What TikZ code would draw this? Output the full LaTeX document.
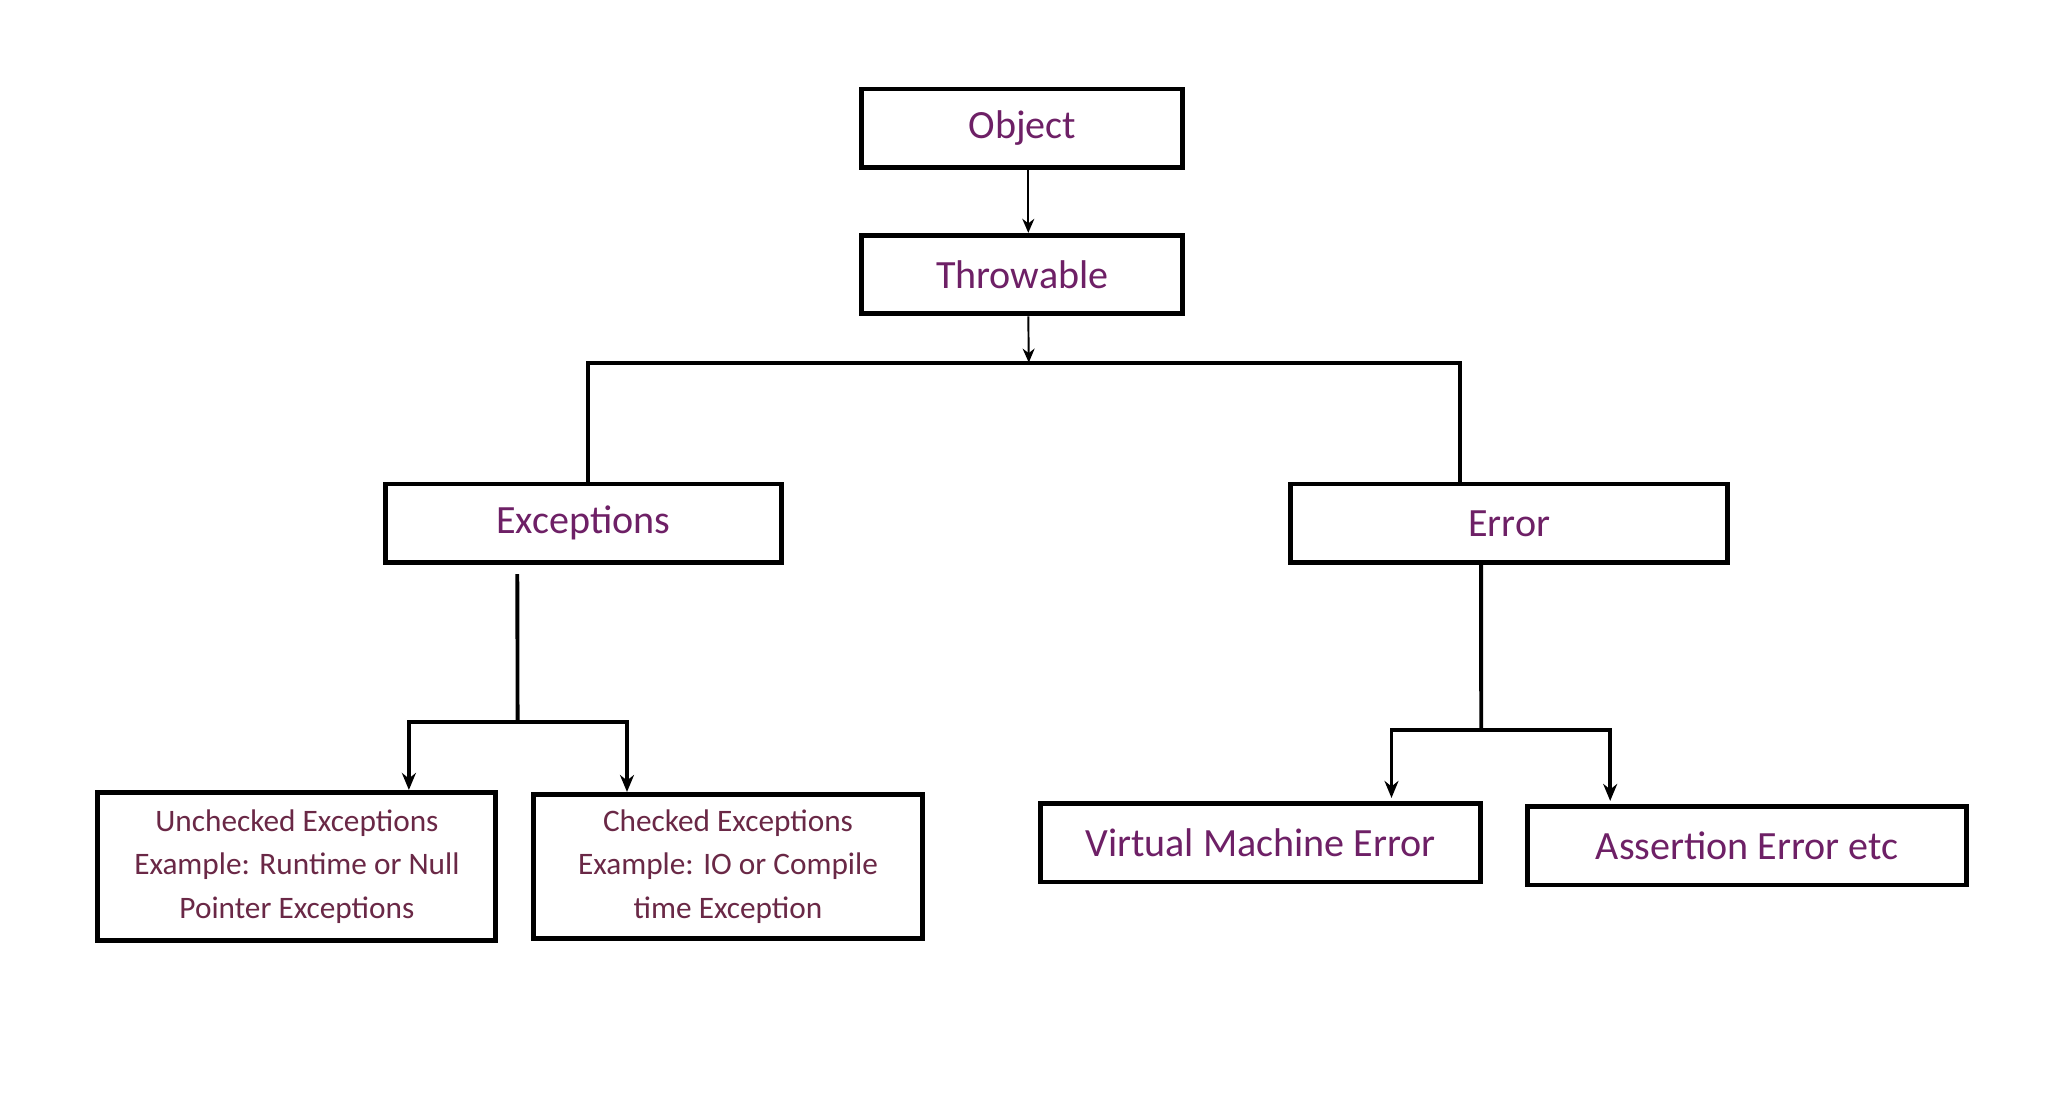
\documentclass[tikz,border=0pt]{standalone}
\usepackage{fontspec}
\setmainfont{Carlito}
\usetikzlibrary{arrows.meta, positioning, calc}

\definecolor{classpurple}{HTML}{6E2066}
\definecolor{notepurple}{HTML}{6A2846}

\begin{document}
\begin{tikzpicture}[
    % Define styles for consistency
    class_box/.style={draw=black, line width=1.4pt, fill=white, minimum height=0.786cm,
        font=\fontsize{11.4}{13}\selectfont, text=classpurple},
    note_box/.style={draw=black, line width=1.4pt, fill=white, align=center,
        font=\fontsize{8.9}{12.3}\selectfont, text=notepurple},
    thin_arrow/.style={-{Stealth[length=1.4mm, width=1.2mm]}, line width=0.55pt},
    branch/.style={line width=1.1pt},
    branch_arrow/.style={branch, -{Stealth[length=1.7mm, width=1.4mm]}}
]
    \useasboundingbox (0, 0) rectangle (20.48, -11.04);

    % ---------------------------------------------------------
    % 1. Top of the hierarchy
    % ---------------------------------------------------------
    \node[class_box, minimum width=3.21cm] (object) at (10.223, -1.283) {Object};
    \node[class_box, minimum width=3.21cm] (throwable) at (10.223, -2.746) {Throwable};

    \draw[thin_arrow] ([xshift=0.6mm]object.south) -- ([xshift=0.6mm]throwable.north);

    % ---------------------------------------------------------
    % 2. Exceptions and Error
    % ---------------------------------------------------------
    \node[class_box, minimum width=3.96cm] (exceptions) at (5.833, -5.233) {Exceptions};
    \node[class_box, minimum width=4.375cm] (error) at (15.091, -5.233) {Error};

    % Split below Throwable
    \coordinate (split) at (10.288, -3.626);
    \draw[thin_arrow] ([xshift=0.6mm]throwable.south) -- (split);
    \draw[branch] ([xshift=0.5mm]exceptions.north) |- (split)
        -| ([xshift=-4.9mm]error.north);

    % ---------------------------------------------------------
    % 3. Leaves
    % ---------------------------------------------------------
    \node[note_box, minimum width=3.98cm, minimum height=1.483cm] (unchecked) at (2.969, -8.666)
        {Unchecked Exceptions\\ Example: Runtime or Null\\ Pointer Exceptions};
    \node[note_box, minimum width=3.89cm, minimum height=1.443cm] (checked) at (7.280, -8.666)
        {Checked Exceptions\\ Example: IO or Compile\\ time Exception};

    \node[class_box, minimum width=4.395cm] (vm_error) at (12.605, -8.427) {Virtual Machine Error};
    \node[class_box, minimum width=4.385cm] (assertion) at (17.472, -8.457) {Assertion Error etc};

    % Exceptions branch
    \coordinate (exc_split) at (5.176, -7.218);
    \draw[branch] ([xshift=-6.6mm, yshift=-0.9mm]exceptions.south) -- (exc_split);
    \draw[branch_arrow] (exc_split) -| ([xshift=11.2mm]unchecked.north);
    \draw[branch_arrow] (exc_split) -| ([xshift=-10.1mm]checked.north);

    % Error branch
    \coordinate (err_split) at (14.812, -7.298);
    \draw[branch] ([xshift=-2.8mm]error.south) -- (err_split);
    \draw[branch_arrow] (err_split) -| ([xshift=13.1mm, yshift=0.3mm]vm_error.north);
    \draw[branch_arrow] (err_split) -| ([xshift=-13.7mm, yshift=0.3mm]assertion.north);
\end{tikzpicture}
\end{document}
